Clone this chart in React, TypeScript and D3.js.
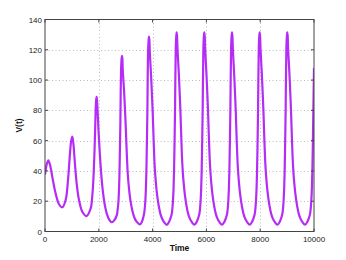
import React from "react";
import * as d3 from "d3";

const xTicks = [0, 2000, 4000, 6000, 8000, 10000];
const yTicks = [0, 20, 40, 60, 80, 100, 120, 140];

// [time, V(t)]
const transient: [number, number][] = [
  [0, 37.5], [60, 44], [124, 47], [200, 43], [272, 36], [397, 25], [520, 18], [645, 16],
  [768, 20.8], [855, 34], [929, 51.6], [975, 60], [1016, 62.6], [1055, 58], [1103, 47],
  [1177, 31.8], [1264, 20.8], [1388, 13], [1537, 10.2], [1698, 15.3], [1760, 24], [1797, 34],
  [1846, 56], [1880, 78], [1902, 87], [1920, 89], [1940, 85], [1995, 64.8], [2070, 42.8],
  [2130, 30], [2193, 20.8], [2240, 16], [2294, 12], [2385, 7.8], [2480, 6.1],
];
const growing: [number, number][] = [
  [2580, 7.5], [2672, 11], [2700, 14.5], [2727, 19], [2747, 26], [2764, 35], [2784, 53],
  [2801, 71], [2828, 106.5], [2847, 114], [2862, 116], [2877, 114], [2892, 106.5], [2942, 92],
  [2972, 81], [3000, 70], [3037, 53], [3077, 38], [3122, 28.5], [3172, 21], [3232, 15],
  [3292, 10.8], [3352, 8], [3422, 6.2], [3531, 4.7],
  [3600, 6.3], [3676, 11], [3706, 14.8], [3731, 20.5], [3751, 28.5], [3768, 39], [3788, 59],
  [3805, 78], [3832, 118.5], [3851, 126.2], [3866, 128.7], [3881, 126.2], [3896, 118.5],
  [3946, 102], [3976, 90], [4004, 78.5], [4041, 59], [4081, 42], [4126, 31.5], [4176, 23],
  [4236, 16.2], [4296, 11.3], [4356, 8.4], [4426, 6.2], [4526, 4.4],
];
const steady: [number, number][] = [
  [4615, 6.5], [4705, 11], [4735, 15], [4760, 21], [4780, 29], [4797, 40], [4817, 60],
  [4834, 80], [4861, 121], [4880, 129], [4895, 131.5], [4910, 129], [4925, 121], [4975, 104],
  [5005, 92], [5033, 80], [5070, 60], [5110, 43], [5155, 32], [5205, 23.5], [5265, 16.5],
  [5325, 11.5], [5385, 8.5], [5455, 6.3], [5555, 4.5],
  [5642, 6.5], [5732, 11], [5762, 15], [5787, 21], [5807, 29], [5824, 40], [5844, 60],
  [5861, 80], [5888, 121], [5907, 129], [5922, 131.5], [5937, 129], [5952, 121], [6002, 104],
  [6032, 92], [6060, 80], [6097, 60], [6137, 43], [6182, 32], [6232, 23.5], [6292, 16.5],
  [6352, 11.5], [6412, 8.5], [6482, 6.3], [6582, 4.5],
  [6672, 6.5], [6762, 11], [6792, 15], [6817, 21], [6837, 29], [6854, 40], [6874, 60],
  [6891, 80], [6918, 121], [6937, 129], [6952, 131.5], [6967, 129], [6982, 121], [7032, 104],
  [7062, 92], [7090, 80], [7127, 60], [7167, 43], [7212, 32], [7262, 23.5], [7322, 16.5],
  [7382, 11.5], [7442, 8.5], [7512, 6.3], [7612, 4.5],
  [7701, 6.5], [7791, 11], [7821, 15], [7846, 21], [7866, 29], [7883, 40], [7903, 60],
  [7920, 80], [7947, 121], [7966, 129], [7981, 131.5], [7996, 129], [8011, 121], [8061, 104],
  [8091, 92], [8119, 80], [8156, 60], [8196, 43], [8241, 32], [8291, 23.5], [8351, 16.5],
  [8411, 11.5], [8471, 8.5], [8541, 6.3], [8641, 4.5],
  [8727, 6.5], [8817, 11], [8847, 15], [8872, 21], [8892, 29], [8909, 40], [8929, 60],
  [8946, 80], [8973, 121], [8992, 129], [9007, 131.5], [9022, 129], [9037, 121], [9087, 104],
  [9117, 92], [9145, 80], [9182, 60], [9222, 43], [9267, 32], [9317, 23.5], [9377, 16.5],
  [9437, 11.5], [9497, 8.5], [9567, 6.3], [9667, 4.5],
  [9757, 6.5], [9847, 11], [9877, 15], [9902, 21], [9922, 29], [9939, 40], [9959, 60],
  [9976, 80], [10000, 108],
];

const W = 346, H = 260;
const L = 45, R = 314, T = 19.5, B = 231.5;

export default function App() {
  const x = d3.scaleLinear().domain([0, 10000]).range([L, R]);
  const y = d3.scaleLinear().domain([0, 140]).range([B, T]);
  const data = [...transient, ...growing, ...steady];
  const line = d3
    .line<[number, number]>()
    .x((d) => x(d[0]))
    .y((d) => y(d[1]))
    .curve(d3.curveCatmullRom.alpha(0.5));
  const font = "'Liberation Sans', Arial, Helvetica, sans-serif";
  return (
    <div style={{ position: "fixed", left: 0, top: 0 }}>
      <svg width={W} height={H} style={{ display: "block", background: "#fff" }}>
        <defs>
          <clipPath id="plotclip">
            <rect x={L} y={T} width={R - L} height={B - T} />
          </clipPath>
        </defs>
        {xTicks.slice(1, -1).map((t) => (
          <line key={"gx" + t} x1={Math.round(x(t)) + 0.5} x2={Math.round(x(t)) + 0.5} y1={T} y2={B}
            stroke="#bbb" strokeWidth={1} strokeDasharray="1,2.5" />
        ))}
        {yTicks.slice(1, -1).map((t) => (
          <line key={"gy" + t} x1={L} x2={R} y1={Math.round(y(t)) + 0.5} y2={Math.round(y(t)) + 0.5}
            stroke="#bbb" strokeWidth={1} strokeDasharray="1,2.5" />
        ))}
        <path d={line(data) || ""} fill="none" stroke="#b52cf7" strokeWidth={2.2}
          strokeLinejoin="round" clipPath="url(#plotclip)" />
        <rect x={L} y={T} width={R - L} height={B - T} fill="none" stroke="#444" strokeWidth={1} />
        {xTicks.map((t) => (
          <g key={"tx" + t}>
            <line x1={x(t)} x2={x(t)} y1={B} y2={B - 3} stroke="#444" />
            <line x1={x(t)} x2={x(t)} y1={T} y2={T + 3} stroke="#444" />
            <text x={x(t)} y={242} textAnchor="middle" fontSize={8} fontFamily={font} fill="#222">{t}</text>
          </g>
        ))}
        {yTicks.map((t) => (
          <g key={"ty" + t}>
            <line x1={L} x2={L + 3} y1={y(t)} y2={y(t)} stroke="#444" />
            <line x1={R} x2={R - 3} y1={y(t)} y2={y(t)} stroke="#444" />
            <text x={42} y={y(t) + 3} textAnchor="end" fontSize={8} fontFamily={font} fill="#222">{t}</text>
          </g>
        ))}
        <text x={(L + R) / 2} y={250.5} textAnchor="middle" fontSize={8.5} fontWeight="bold" fontFamily={font} fill="#111">Time</text>
        <text transform={`translate(22,${(T + B) / 2}) rotate(-90)`} textAnchor="middle" fontSize={8.5}
          fontWeight="bold" fontFamily={font} fill="#111">V(t)</text>
      </svg>
    </div>
  );
}
